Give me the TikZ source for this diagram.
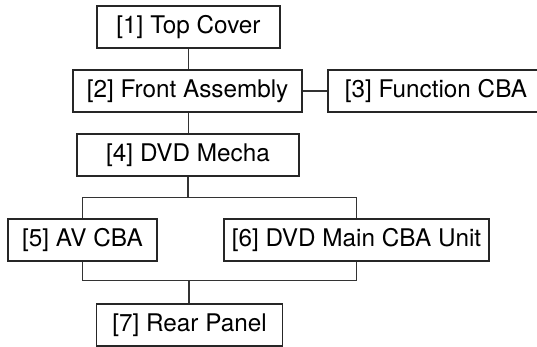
\documentclass[tikz,border=0pt]{standalone}
\usepackage{fontspec}
\setmainfont{TeX Gyre Heros}
\usetikzlibrary{positioning}

\begin{document}
\begin{tikzpicture}[x=1pt,y=1pt,on grid,line width=1.1pt,
		part/.style={draw=black!85, rectangle, minimum height=42pt, inner sep=0pt,
			font=\fontsize{24.3}{29}\selectfont},
		link/.style={draw=black!80, line width=1.1pt}
	]
	\useasboundingbox (0,0) rectangle (537,-347);
	
	\node[part, minimum width=183pt] (top_cover) at (188.5,-27) {[1] Top Cover};
	\node[part, minimum width=229pt] (front_asm) [below=64pt of top_cover, xshift=-1pt] {[2] Front Assembly};
	\node[part, minimum width=216pt] (func_cba) [right=248.5pt of front_asm] {[3] Function CBA};
	\node[part, minimum width=222pt] (dvd_mecha) [below=64pt of front_asm, xshift=0.5pt] {[4] DVD Mecha};
	
	\node[part, minimum width=149pt] (av_cba) [below=85pt of dvd_mecha, xshift=-105.5pt] {[5] AV CBA};
	\node[part, minimum width=265pt] (main_cba) [right=274pt of av_cba] {[6] DVD Main CBA Unit};
	
	\node[part, minimum width=186pt] (rear_panel) [below=170pt of dvd_mecha, xshift=1.5pt] {[7] Rear Panel};
	
	\coordinate[below=21pt of dvd_mecha.south] (fork);
	\coordinate[above=23pt of rear_panel.north, xshift=-0.5pt] (join);
	
	\draw[link] (top_cover.south) -- (top_cover.south |- front_asm.north);
	\draw[link] (front_asm.east) -- (func_cba.west);
	\draw[link] (top_cover.south |- front_asm.south) -- (top_cover.south |- dvd_mecha.north);
	\draw[link] (dvd_mecha.south) -- (fork);
	\draw[link] (av_cba.north) |- (fork) -| (main_cba.north);
	\draw[link] (av_cba.south) |- (join) -| (main_cba.south);
	\draw[link] (join) -- (join |- rear_panel.north);
\end{tikzpicture}
\end{document}
